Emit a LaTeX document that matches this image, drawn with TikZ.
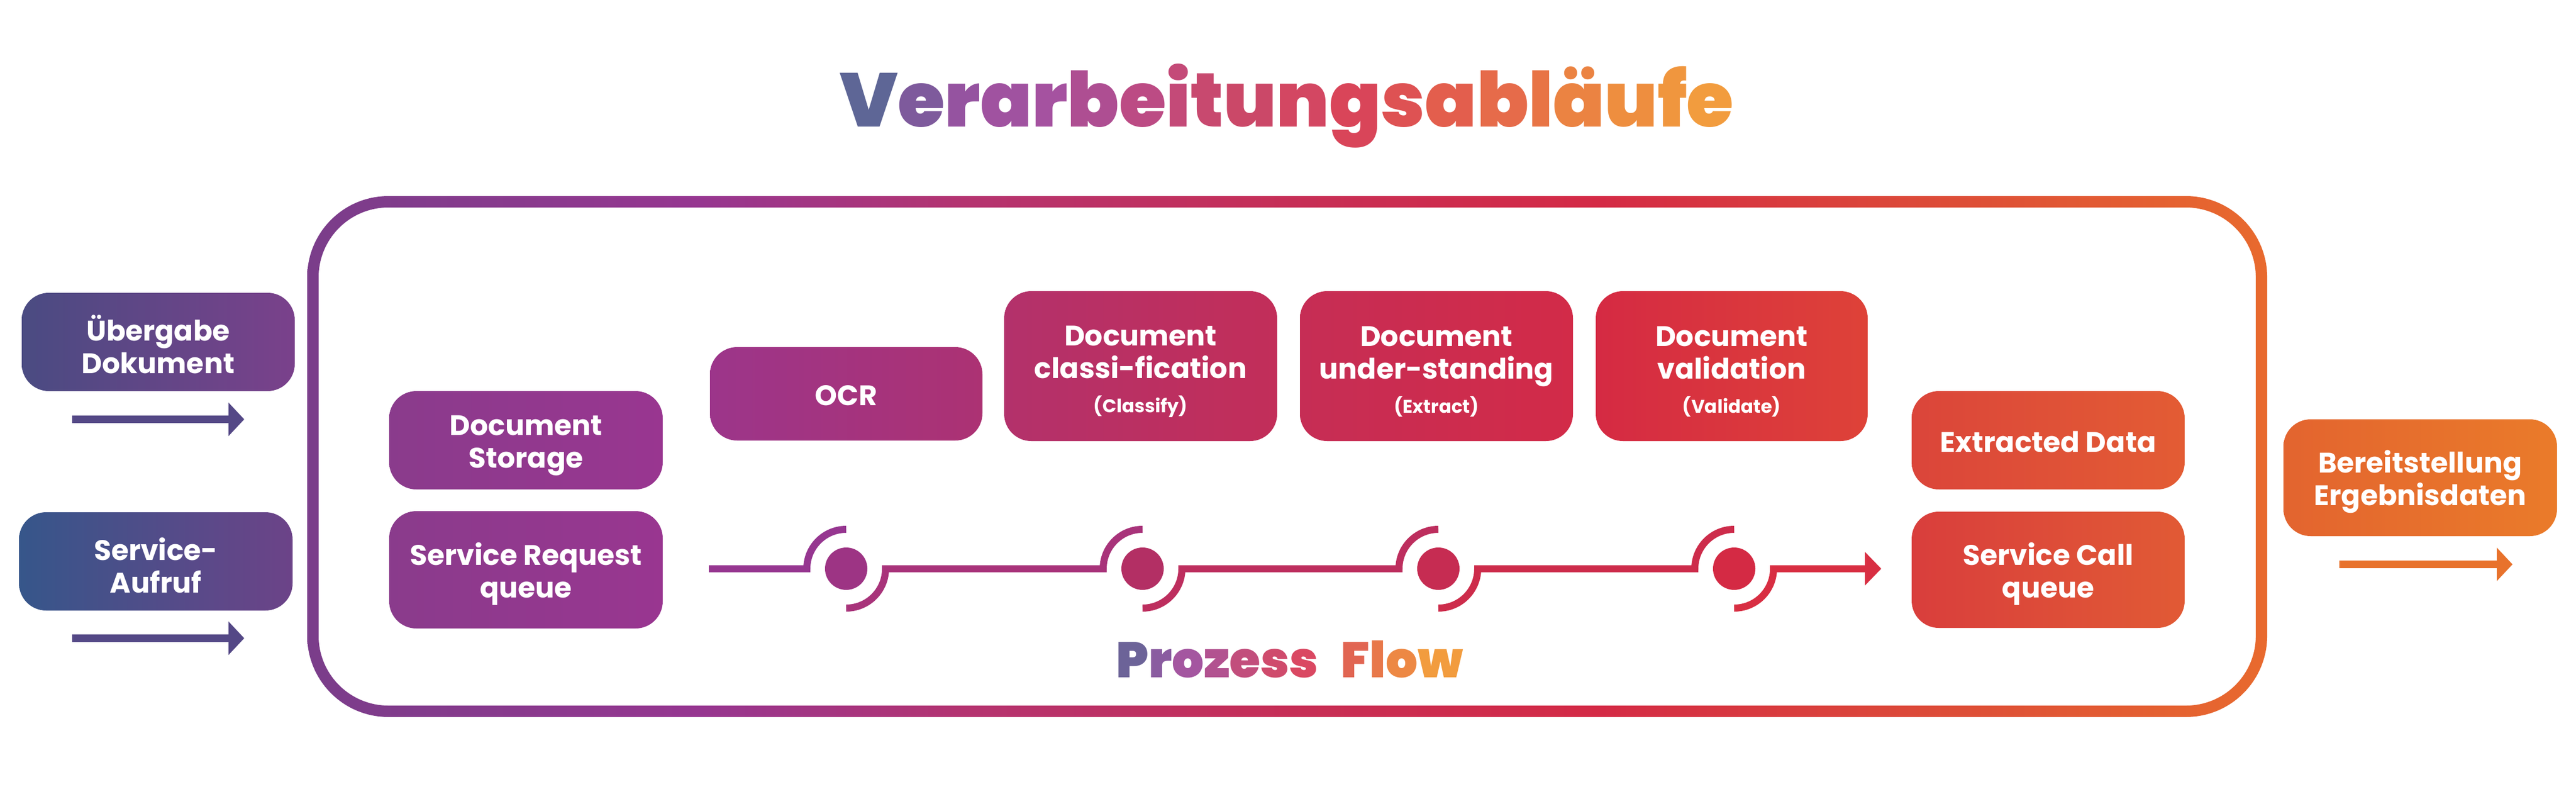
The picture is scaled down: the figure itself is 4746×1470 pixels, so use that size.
\documentclass[tikz,border=0pt]{standalone}
\usepackage{fontspec}
\setmainfont{Poppins}
\IfFontExistsTF{Poppins Black}
  {\newfontfamily\heavyfont{Poppins Black}\newcommand\titlesize{140}\newcommand\pfsize{92}}
  {\newcommand\heavyfont{\bfseries}\newcommand\titlesize{145}\newcommand\pfsize{98}}
\usetikzlibrary{arrows.meta,calc}
\definecolor{fr0}{HTML}{7A3D8A}
\definecolor{fr1}{HTML}{963690}
\definecolor{fr2}{HTML}{B5336F}
\definecolor{fr3}{HTML}{C72E55}
\definecolor{fr4}{HTML}{D42A45}
\definecolor{fr5}{HTML}{DD4D37}
\definecolor{fr6}{HTML}{E86A2E}
\pgfdeclarehorizontalshading{frameshade}{100bp}{color(0bp)=(fr0); color(25bp)=(fr0); color(35bp)=(fr1); color(42bp)=(fr2); color(50.5bp)=(fr3); color(58bp)=(fr4); color(67bp)=(fr5); color(75bp)=(fr6); color(100bp)=(fr6)}
\definecolor{f0}{HTML}{963690}
\definecolor{f1}{HTML}{A8337A}
\definecolor{f2}{HTML}{BD2E5E}
\definecolor{f3}{HTML}{CD2C4B}
\definecolor{f4}{HTML}{D82E42}
\definecolor{dot1}{HTML}{9D3484}
\definecolor{dot2}{HTML}{B32F64}
\definecolor{dot3}{HTML}{C62C52}
\definecolor{dot4}{HTML}{D42A44}
\definecolor{arrL}{HTML}{544886}
\definecolor{arrR}{HTML}{E8722C}
\definecolor{uebL}{HTML}{4A4B82}\definecolor{uebR}{HTML}{7A418B}
\definecolor{aufL}{HTML}{36568A}\definecolor{aufR}{HTML}{6C4388}
\definecolor{stoL}{HTML}{8A3B8C}\definecolor{stoR}{HTML}{993690}
\definecolor{ocrL}{HTML}{9C358A}\definecolor{ocrR}{HTML}{AC3273}
\definecolor{clsL}{HTML}{B3316B}\definecolor{clsR}{HTML}{C22E59}
\definecolor{undL}{HTML}{C62D55}\definecolor{undR}{HTML}{D22B48}
\definecolor{valL}{HTML}{D52A43}\definecolor{valR}{HTML}{DE4238}
\definecolor{extL}{HTML}{DB453A}\definecolor{extR}{HTML}{E35C34}
\definecolor{calL}{HTML}{D93E3C}\definecolor{calR}{HTML}{E15A35}
\definecolor{berL}{HTML}{E3642F}\definecolor{berR}{HTML}{EA7B2A}
\newcommand\tc[2]{{\color[HTML]{#1}#2}}
\newcommand\smalltxt[1]{{\fontsize{34}{40}\selectfont #1}}
\newcommand\up{\rule{0pt}{57pt}}
\newcommand\upone{\rule{0pt}{44pt}}
\begin{document}
\begin{tikzpicture}[x=1pt,y=-1pt,
  box/.style={rectangle, rounded corners=50pt, minimum width=503pt, inner sep=0pt,
    align=center, text=white, font=\fontsize{52}{60}\selectfont\bfseries},
  dotnode/.style={circle, minimum size=78pt, inner sep=0pt},
  flowline/.style={line width=13pt},
  arr/.style={line width=14pt, -{Triangle[length=29pt,width=60pt]}}]
\fill[white] (0,0) rectangle (4746,1470);
\useasboundingbox (0,0) rectangle (4746,1470);

% title
\node[anchor=base, font=\fontsize{\titlesize}{160}\selectfont\heavyfont] (title) at (2371,233)
 {\tc{5E6696}{V}\tc{7E5A9C}{e}\tc{9553A0}{r}\tc{A052A0}{a}\tc{A552A0}{r}\tc{AE4E92}{b}\tc{BC4B84}{e}\tc{C44A78}{i}\tc{C8496F}{t}\tc{CB4868}{u}\tc{D34762}{n}\tc{D94559}{g}\tc{DE5253}{s}\tc{E35E4D}{a}\tc{E66B4A}{b}\tc{E87445}{l}\tc{EB8342}{ä}\tc{EE8E3F}{u}\tc{F0963E}{f}\tc{F29C3E}{e}};

% frame
\shade[shading=frameshade, even odd rule]
  [rounded corners=149.5pt] (566,361) rectangle (4177,1320)
  [rounded corners=128.5pt] (587,382) rectangle (4156,1299);

% left boxes
\node[box, left color=uebL, right color=uebR, minimum width=503pt, minimum height=181pt] (ueb) at (291.5,629.5) {\up Übergabe\\Dokument};
\node[box, left color=aufL, right color=aufR, minimum width=504pt, minimum height=181pt] (auf) at (287,1033.5) {\up Service-\\Aufruf};
\coordinate (a1s) at (133,772);
\coordinate (a1e) at (450,772);
\coordinate (a2s) at (133,1175);
\coordinate (a2e) at (450,1175);
\draw[arr, arrL] (a1s) -- (a1e);
\draw[arr, arrL] (a2s) -- (a2e);

% inner left
\node[box, left color=stoL, right color=stoR, minimum width=504pt, minimum height=181pt] (sto) at (969,810.5) {\up Document\\Storage};
\node[box, left color=stoL, right color=stoR, minimum width=504pt, minimum height=216pt] (req) at (969,1049) {\up Service Request\\queue};

% top row
\node[box, left color=ocrL, right color=ocrR, minimum width=502pt, minimum height=172pt] (ocr) at (1559,725) {\upone OCR};
\node[box, left color=clsL, right color=clsR, minimum width=503pt, minimum height=276pt] (cls) at (2101.5,674) {\up Document\\classi-fication\\[3pt]\smalltxt{(Classify)}};
\node[box, left color=undL, right color=undR, minimum width=503pt, minimum height=276pt] (und) at (2646.5,674) {\up Document\\under-standing\\[3pt]\smalltxt{(Extract)}};
\node[box, left color=valL, right color=valR, minimum width=501pt, minimum height=276pt] (val) at (3190.5,674) {\up Document\\validation\\[3pt]\smalltxt{(Validate)}};

% right inner
\node[box, left color=extL, right color=extR, minimum width=503pt, minimum height=181pt] (ext) at (3773.5,810.5) {\upone Extracted Data};
\node[box, left color=calL, right color=calR, minimum width=503pt, minimum height=214pt] (call) at (3773.5,1049) {\up Service Call\\queue};

% output
\node[box, left color=berL, right color=berR, minimum width=504pt, minimum height=215pt] (ber) at (4459,879.5) {\up Bereitstellung\\Ergebnisdaten};
\coordinate (a3s) at (4310,1039);
\coordinate (a3e) at (4629,1039);
\draw[arr, arrR] (a3s) -- (a3e);

% flow
\node[dotnode, fill=dot1] (d1) at (1559,1047) {};
\node[dotnode, fill=dot2] (d2) at (2105,1047) {};
\node[dotnode, fill=dot3] (d3) at (2650,1047) {};
\node[dotnode, fill=dot4] (d4) at (3195,1047) {};
\coordinate (fs) at (1306,1047);
\coordinate (fe) at (3466,1047);
\draw[flowline, f0] (fs) -- ($(d1.center)+(-72.5,0)$) arc[start angle=180,end angle=270,radius=72.5];
\draw[flowline, f1] ($(d1.center)+(0,72.5)$) arc[start angle=90,end angle=0,radius=72.5] -- ($(d2.center)+(-72.5,0)$) arc[start angle=180,end angle=270,radius=72.5];
\draw[flowline, f2] ($(d2.center)+(0,72.5)$) arc[start angle=90,end angle=0,radius=72.5] -- ($(d3.center)+(-72.5,0)$) arc[start angle=180,end angle=270,radius=72.5];
\draw[flowline, f3] ($(d3.center)+(0,72.5)$) arc[start angle=90,end angle=0,radius=72.5] -- ($(d4.center)+(-72.5,0)$) arc[start angle=180,end angle=270,radius=72.5];
\draw[flowline, f4, -{Triangle[length=30pt,width=60pt]}] ($(d4.center)+(0,72.5)$) arc[start angle=90,end angle=0,radius=72.5] -- (fe);

% Prozess Flow
\node[anchor=base, font=\fontsize{\pfsize}{110}\selectfont\heavyfont] (pf) at (2376,1247)
 {\tc{6C6398}{P}\tc{8A5CA0}{r}\tc{A456A0}{o}\tc{B25290}{z}\tc{C24E7C}{e}\tc{CF4B6C}{s}\tc{DA4862}{s}\hspace{42pt}\tc{E16552}{F}\tc{E8784A}{l}\tc{ED8844}{o}\tc{F29C3E}{w}};
\end{tikzpicture}
\end{document}
